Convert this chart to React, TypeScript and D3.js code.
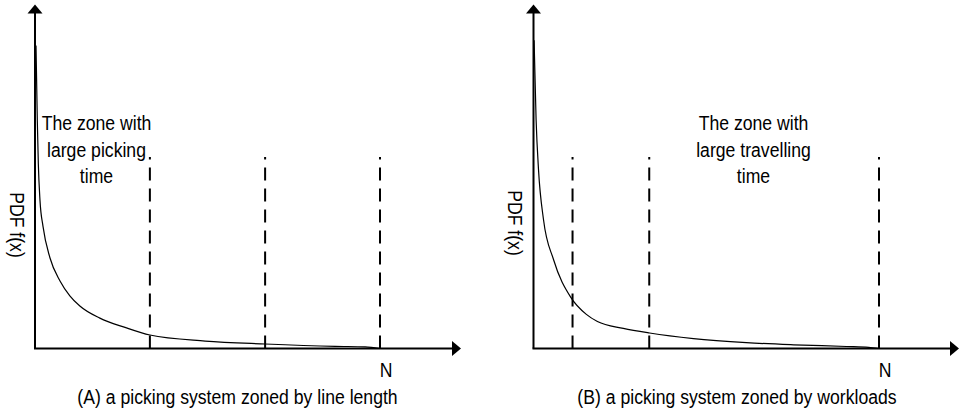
import React from 'react';
import * as d3 from 'd3';

// curve values (x: 0..N as 0..100, y: pdf in relative units)
const curveAX = [0.29, 0.67, 0.96, 1.45, 2.32, 4.35, 7.25, 10.1, 13.0, 18.8, 26.1, 33.3, 49.3, 66.7, 87, 95.7, 100];
const curveAY = [97.7, 73.5, 59.7, 47.7, 39.4, 29.2, 21.8, 17, 13.7, 9.8, 6.8, 4.35, 2.4, 1.45, 0.7, 0.55, 0];
const curveBX = [0.17, 0.75, 1.45, 2.89, 5.79, 10.8, 15.3, 18.5, 26, 33.6, 46.3, 61.6, 75.3, 90.6, 97, 100];
const curveBY = [99.4, 73.9, 57.7, 41.6, 28.7, 16.5, 11, 8.7, 6.5, 5, 3.2, 1.9, 1.2, 0.65, 0.39, 0];

// zone boundaries
const zonesA = [33.3, 66.7, 100];
const zonesB = [11.3, 33.5, 100];

const zoneTextA = ['The zone with', 'large picking', 'time'];
const zoneTextB = ['The zone with', 'large travelling', 'time'];
const captionA = '(A) a picking system zoned by line length';
const captionB = '(B) a picking system zoned by workloads';
const yLabel = 'PDF f(x)';
const nLabel = 'N';

const W = 959;
const H = 413;
const FONT = "'Liberation Sans', Arial, sans-serif";
const NARROW = 0.84; // the original uses a condensed face

type PanelProps = {
  xs: number[];
  ys: number[];
  zones: number[];
  zoneText: string[];
  zoneTextX: number;
  caption: string;
  captionX: number;
  x0: number;
  xN: number;
  xEnd: number;
  labelX: number;
  labelY: number;
};

const Label = ({ x, y, rotate = 0, children }: { x: number; y: number; rotate?: number; children: string }) => (
  <text transform={`translate(${x},${y}) rotate(${rotate}) scale(${NARROW},1)`}>{children}</text>
);

const Panel = ({ xs, ys, zones, zoneText, zoneTextX, caption, captionX, x0, xN, xEnd, labelX, labelY }: PanelProps) => {
  const baseY = 348.5;
  const x = d3.scaleLinear().domain([0, 100]).range([x0, xN]);
  const y = d3.scaleLinear().domain([0, 100]).range([baseY, 38.5]);

  const pts: [number, number][] = xs.map((v, i) => [v, ys[i]]);
  const line = d3.line<[number, number]>()
    .x(d => x(d[0]))
    .y(d => y(d[1]))
    .curve(d3.curveMonotoneX);

  const top = 4.5;
  const ah = 9;
  const aw = 7.5;

  return (
    <g>
      {/* axes */}
      <line x1={x0} y1={baseY} x2={x0} y2={top + ah - 1} stroke="#000" strokeWidth={2} />
      <path d={`M${x0},${top} L${x0 - aw},${top + ah} L${x0 + aw},${top + ah} Z`} fill="#000" />
      <line x1={x0 - 1} y1={baseY} x2={xEnd - ah + 1} y2={baseY} stroke="#000" strokeWidth={2} />
      <path d={`M${xEnd},${baseY} L${xEnd - ah},${baseY - aw} L${xEnd - ah},${baseY + aw} Z`} fill="#000" />

      {/* zone boundaries */}
      {zones.map((z, i) => (
        <line key={i} x1={x(z)} y1={baseY} x2={x(z)} y2={157}
          stroke="#000" strokeWidth={2} strokeDasharray="13,8" />
      ))}

      {/* pdf curve */}
      <path d={line(pts) || ''} fill="none" stroke="#000" strokeWidth={1.2} />

      <g fontFamily={FONT} fontSize={21} fill="#000" textAnchor="middle">
        {zoneText.map((t, i) => (
          <Label key={i} x={zoneTextX} y={130 + i * 26.5}>{t}</Label>
        ))}
        <Label x={x(100) + 6} y={377}>{nLabel}</Label>
        <Label x={captionX} y={404}>{caption}</Label>
        <Label x={labelX} y={labelY} rotate={90}>{yLabel}</Label>
      </g>
    </g>
  );
};

export default function App() {
  return (
    <svg width={W} height={H} style={{ position: 'absolute', left: 0, top: 0, background: '#fff' }}>
      <rect width={W} height={H} fill="#fff" />
      <Panel xs={curveAX} ys={curveAY} zones={zonesA} zoneText={zoneTextA} zoneTextX={96.5}
        caption={captionA} captionX={237.5} x0={35} xN={380} xEnd={461} labelX={10} labelY={225} />
      <Panel xs={curveBX} ys={curveBY} zones={zonesB} zoneText={zoneTextB} zoneTextX={753.5}
        caption={captionB} captionX={737} x0={533.5} xN={879} xEnd={959} labelX={508} labelY={223} />
    </svg>
  );
}
